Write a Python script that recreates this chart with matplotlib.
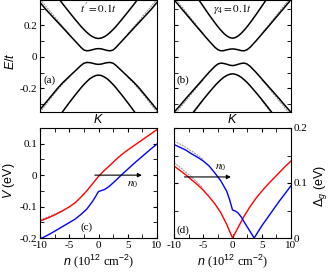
import numpy as np
import matplotlib
matplotlib.use('Agg')
from matplotlib import pyplot as plt
from matplotlib.ticker import MultipleLocator, FuncFormatter

plt.rcParams['font.family'] = ['Liberation Serif', 'DejaVu Serif']
plt.rcParams['mathtext.fontset'] = 'custom'
plt.rcParams['mathtext.rm'] = 'Liberation Sans'
plt.rcParams['mathtext.it'] = 'Liberation Sans:italic'
plt.rcParams['axes.unicode_minus'] = False
plt.rcParams['axes.linewidth'] = 0.8

# band structure, half of k range (mirrored about K)
k_half = [0, 0.05, 0.1, 0.15, 0.2, 0.25, 0.3, 0.4, 0.5, 0.6, 0.7, 0.8, 0.9, 1.0]
# panel (a): t' = 0.1t
a_out_up = [0.116, 0.119, 0.127, 0.139, 0.155, 0.173, 0.193, 0.237, 0.283, 0.330, 0.379, 0.43, 0.48, 0.53]
a_in_up = [0.052, 0.050, 0.045, 0.040, 0.038, 0.043, 0.060, 0.100, 0.140, 0.180, 0.220, 0.260, 0.300, 0.345]
a_in_lo = [-0.048, -0.046, -0.041, -0.037, -0.036, -0.041, -0.055, -0.090, -0.125, -0.160, -0.200, -0.245, -0.290, -0.335]
a_out_lo = [-0.116, -0.119, -0.128, -0.140, -0.157, -0.176, -0.197, -0.243, -0.291, -0.341, -0.39, -0.44, -0.49, -0.54]
# panel (b): gamma4 = 0.1t
b_out_up = [0.118, 0.122, 0.133, 0.149, 0.169, 0.191, 0.215, 0.266, 0.320, 0.374, 0.44, 0.50, 0.56, 0.62]
b_in_up = [0.050, 0.048, 0.044, 0.039, 0.038, 0.045, 0.060, 0.100, 0.143, 0.186, 0.230, 0.274, 0.318, 0.362]
b_in_lo = [-0.056, -0.053, -0.047, -0.042, -0.040, -0.046, -0.060, -0.098, -0.140, -0.182, -0.224, -0.266, -0.310, -0.352]
b_out_lo = [-0.108, -0.111, -0.119, -0.130, -0.146, -0.163, -0.183, -0.226, -0.271, -0.318, -0.366, -0.414, -0.462, -0.51]

# dashed (comparison) curves at large |k|
k_tail = [0.5, 0.6, 0.7, 0.8, 0.9, 1.0]
a_in_up_d = [0.145, 0.188, 0.232, 0.276, 0.320, 0.366]
a_in_lo_d = [-0.130, -0.168, -0.210, -0.256, -0.303, -0.352]
b_in_up_d = [0.148, 0.194, 0.240, 0.287, 0.333, 0.380]
b_out_lo_d = [-0.276, -0.326, -0.376, -0.426, -0.476, -0.526]
b_in_lo_d = [-0.146, -0.190, -0.235, -0.280, -0.326, -0.372]

# panel (c): V vs n
n_red = [-10, -9, -8, -7, -6, -5, -4, -3, -2, -1, 0, 1, 2, 3, 4, 5, 6, 7, 8, 9, 10]
V_red = [-0.146, -0.139, -0.131, -0.122, -0.112, -0.101, -0.088, -0.070, -0.050, -0.027, -0.004,
         0.015, 0.032, 0.050, 0.066, 0.080, 0.093, 0.106, 0.119, 0.132, 0.145]
n_blue = [-10, -9, -8, -7, -6, -5, -4, -3, -2, -1, -0.5, 0, 0.5, 1, 1.5, 2, 3, 4, 5, 6, 7, 8, 9, 10]
V_blue = [-0.203, -0.194, -0.184, -0.173, -0.162, -0.151, -0.140, -0.125, -0.108, -0.083, -0.068, -0.052,
          -0.049, -0.046, -0.040, -0.033, -0.016, 0.002, 0.019, 0.036, 0.052, 0.068, 0.084, 0.099]
n_dash_c = [-10, -9, -8, -7, -6]
V_red_dash = [-0.142, -0.135, -0.128, -0.120, -0.111]

# panel (d): gap vs n
D_red = [0.131, 0.123, 0.115, 0.106, 0.097, 0.087, 0.075, 0.062, 0.046, 0.025, 0.0,
         0.020, 0.040, 0.057, 0.072, 0.085, 0.097, 0.108, 0.119, 0.130, 0.140]
n_blue_d = [-10, -9, -8, -7, -6, -5, -4, -3, -2, -1, -0.5, 0, 0.5, 1, 1.5, 2, 3, 3.7, 4, 5, 6, 7, 8, 9, 10]
D_blue = [0.170, 0.165, 0.160, 0.153, 0.147, 0.140, 0.131, 0.118, 0.104, 0.085, 0.070, 0.051,
          0.049, 0.045, 0.038, 0.029, 0.012, 0.0, 0.005, 0.022, 0.037, 0.052, 0.067, 0.081, 0.095]
n_dash_d = [-10, -9, -8, -7, -6, -5]
D_red_dash = [0.137, 0.129, 0.120, 0.111, 0.101, 0.091]
D_blue_dash = [0.176, 0.171, 0.165, 0.158, 0.151, 0.143]


def mirror(vals):
    v = np.asarray(vals, dtype=float)
    return np.concatenate([v[::-1], v[1:]])


# 0 instead of 0.0 on the tick labels
plain = FuncFormatter(lambda v, pos: '%g' % round(v, 3))

k_full = np.concatenate([-np.asarray(k_half)[::-1], np.asarray(k_half)[1:]])

fig = plt.figure(figsize=(3.32, 2.73), dpi=100)
W, H = 332.0, 273.0
ax_a = fig.add_axes([40 / W, 1 - 112 / H, 117 / W, 112 / H])
ax_b = fig.add_axes([174 / W, 1 - 112 / H, 117 / W, 112 / H])
ax_c = fig.add_axes([40 / W, 1 - 238 / H, 117 / W, 110 / H])
ax_d = fig.add_axes([174 / W, 1 - 238 / H, 117 / W, 110 / H])

dash_kw = dict(color='0.55', lw=0.7, dashes=(2, 1))
tick_kw = dict(direction='in', labelsize=8, pad=2)
sans = 'Liberation Sans'

bands = [(ax_a, [a_out_up, a_in_up, a_in_lo, a_out_lo], [a_in_up_d, a_in_lo_d], '(a)', r"$t^{\prime} = 0.1t$"),
         (ax_b, [b_out_up, b_in_up, b_in_lo, b_out_lo], [b_in_up_d, b_out_lo_d, b_in_lo_d], '(b)',
          r'$\gamma_{4} = 0.1t$')]
for ax, solid, dashed, tag, title in bands:
    for d in dashed:
        ax.plot(k_tail, d, **dash_kw)
        ax.plot(-np.asarray(k_tail), d, **dash_kw)
    for e in solid:
        ax.plot(k_full, mirror(e), color='black', lw=1.1)
    ax.set_xlim(-1, 1)
    ax.set_ylim(-0.35, 0.36)
    ax.set_xticks([])
    ax.yaxis.set_major_locator(MultipleLocator(0.2))
    ax.yaxis.set_minor_locator(MultipleLocator(0.1))
    ax.yaxis.set_major_formatter(plain)
    ax.tick_params(axis='y', which='major', length=3, **tick_kw)
    ax.tick_params(axis='y', which='minor', direction='in', length=3)
    ax.text(-0.84, -0.147, tag, fontsize=8, va='center', ha='center')
    ax.text(0.0, 0.305, title, fontsize=8, ha='center', va='center', math_fontfamily='stix')
    ax.set_xlabel(r'$K$', fontsize=9, labelpad=1)

ax_a.set_ylabel(r'$E/t$', fontsize=9)
ax_a.yaxis.set_label_coords(-0.2, 0.45)
ax_b.tick_params(axis='y', which='both', right=True, labelleft=False)

# panel (c)
ax_c.plot(n_dash_c, V_red_dash, **dash_kw)
ax_c.plot(n_red, V_red, color='red', lw=1.0)
ax_c.plot(n_blue, V_blue, color='blue', lw=1.0)
ax_c.set_xlim(-10, 10)
ax_c.set_ylim(-0.2, 0.15)
ax_c.set_ylabel(r'$V$ (eV)', fontsize=9, fontfamily=sans)
ax_c.yaxis.set_label_coords(-0.2, 0.52)
ax_c.yaxis.set_major_locator(MultipleLocator(0.1))
ax_c.yaxis.set_minor_locator(MultipleLocator(0.05))
ax_c.annotate('', xy=(7.9, 0), xytext=(-1.1, 0),
              arrowprops=dict(arrowstyle='-|>', color='black', lw=0.8, mutation_scale=6))
ax_c.text(5.9, -0.03, r'$n_0$', fontsize=8, ha='center', va='center', math_fontfamily='stix')
ax_c.text(-2.1, -0.165, '(c)', fontsize=8, ha='center', va='center')

# panel (d)
for d in (D_red_dash, D_blue_dash):
    ax_d.plot(n_dash_d, d, **dash_kw)
ax_d.plot(n_red, D_red, color='red', lw=1.0)
ax_d.plot(n_blue_d, D_blue, color='blue', lw=1.0)
ax_d.set_xlim(-10, 10)
ax_d.set_ylim(0, 0.2)
ax_d.yaxis.set_major_locator(MultipleLocator(0.1))
ax_d.yaxis.set_minor_locator(MultipleLocator(0.05))
ax_d.yaxis.set_label_position('right')
ax_d.set_ylabel(r'$\Delta_g$ (eV)', fontsize=9, rotation=90, fontfamily=sans)
ax_d.yaxis.set_label_coords(1.18, 0.47)
ax_d.annotate('', xy=(0.2, 0.111), xytext=(-8.7, 0.111),
              arrowprops=dict(arrowstyle='-|>', color='black', lw=0.8, mutation_scale=6))
ax_d.text(-2.1, 0.128, r'$n_0$', fontsize=8, ha='center', va='center', math_fontfamily='stix')
ax_d.text(-8.4, 0.014, '(d)', fontsize=8, ha='center', va='center')

for ax in (ax_c, ax_d):
    ax.xaxis.set_major_locator(MultipleLocator(5))
    ax.xaxis.set_minor_locator(MultipleLocator(2.5))
    ax.xaxis.set_major_formatter(plain)
    ax.yaxis.set_major_formatter(plain)
    ax.tick_params(which='major', length=3, top=True, right=True, **tick_kw)
    ax.tick_params(which='minor', direction='in', length=3, top=True, right=True)
    ax.set_xlabel(r'$n$ (10$^{12}$ cm$^{-2}$)', fontsize=9, labelpad=2)

ax_d.tick_params(axis='y', which='both', labelleft=False, labelright=True)

fig.savefig('out.png', dpi=100)
